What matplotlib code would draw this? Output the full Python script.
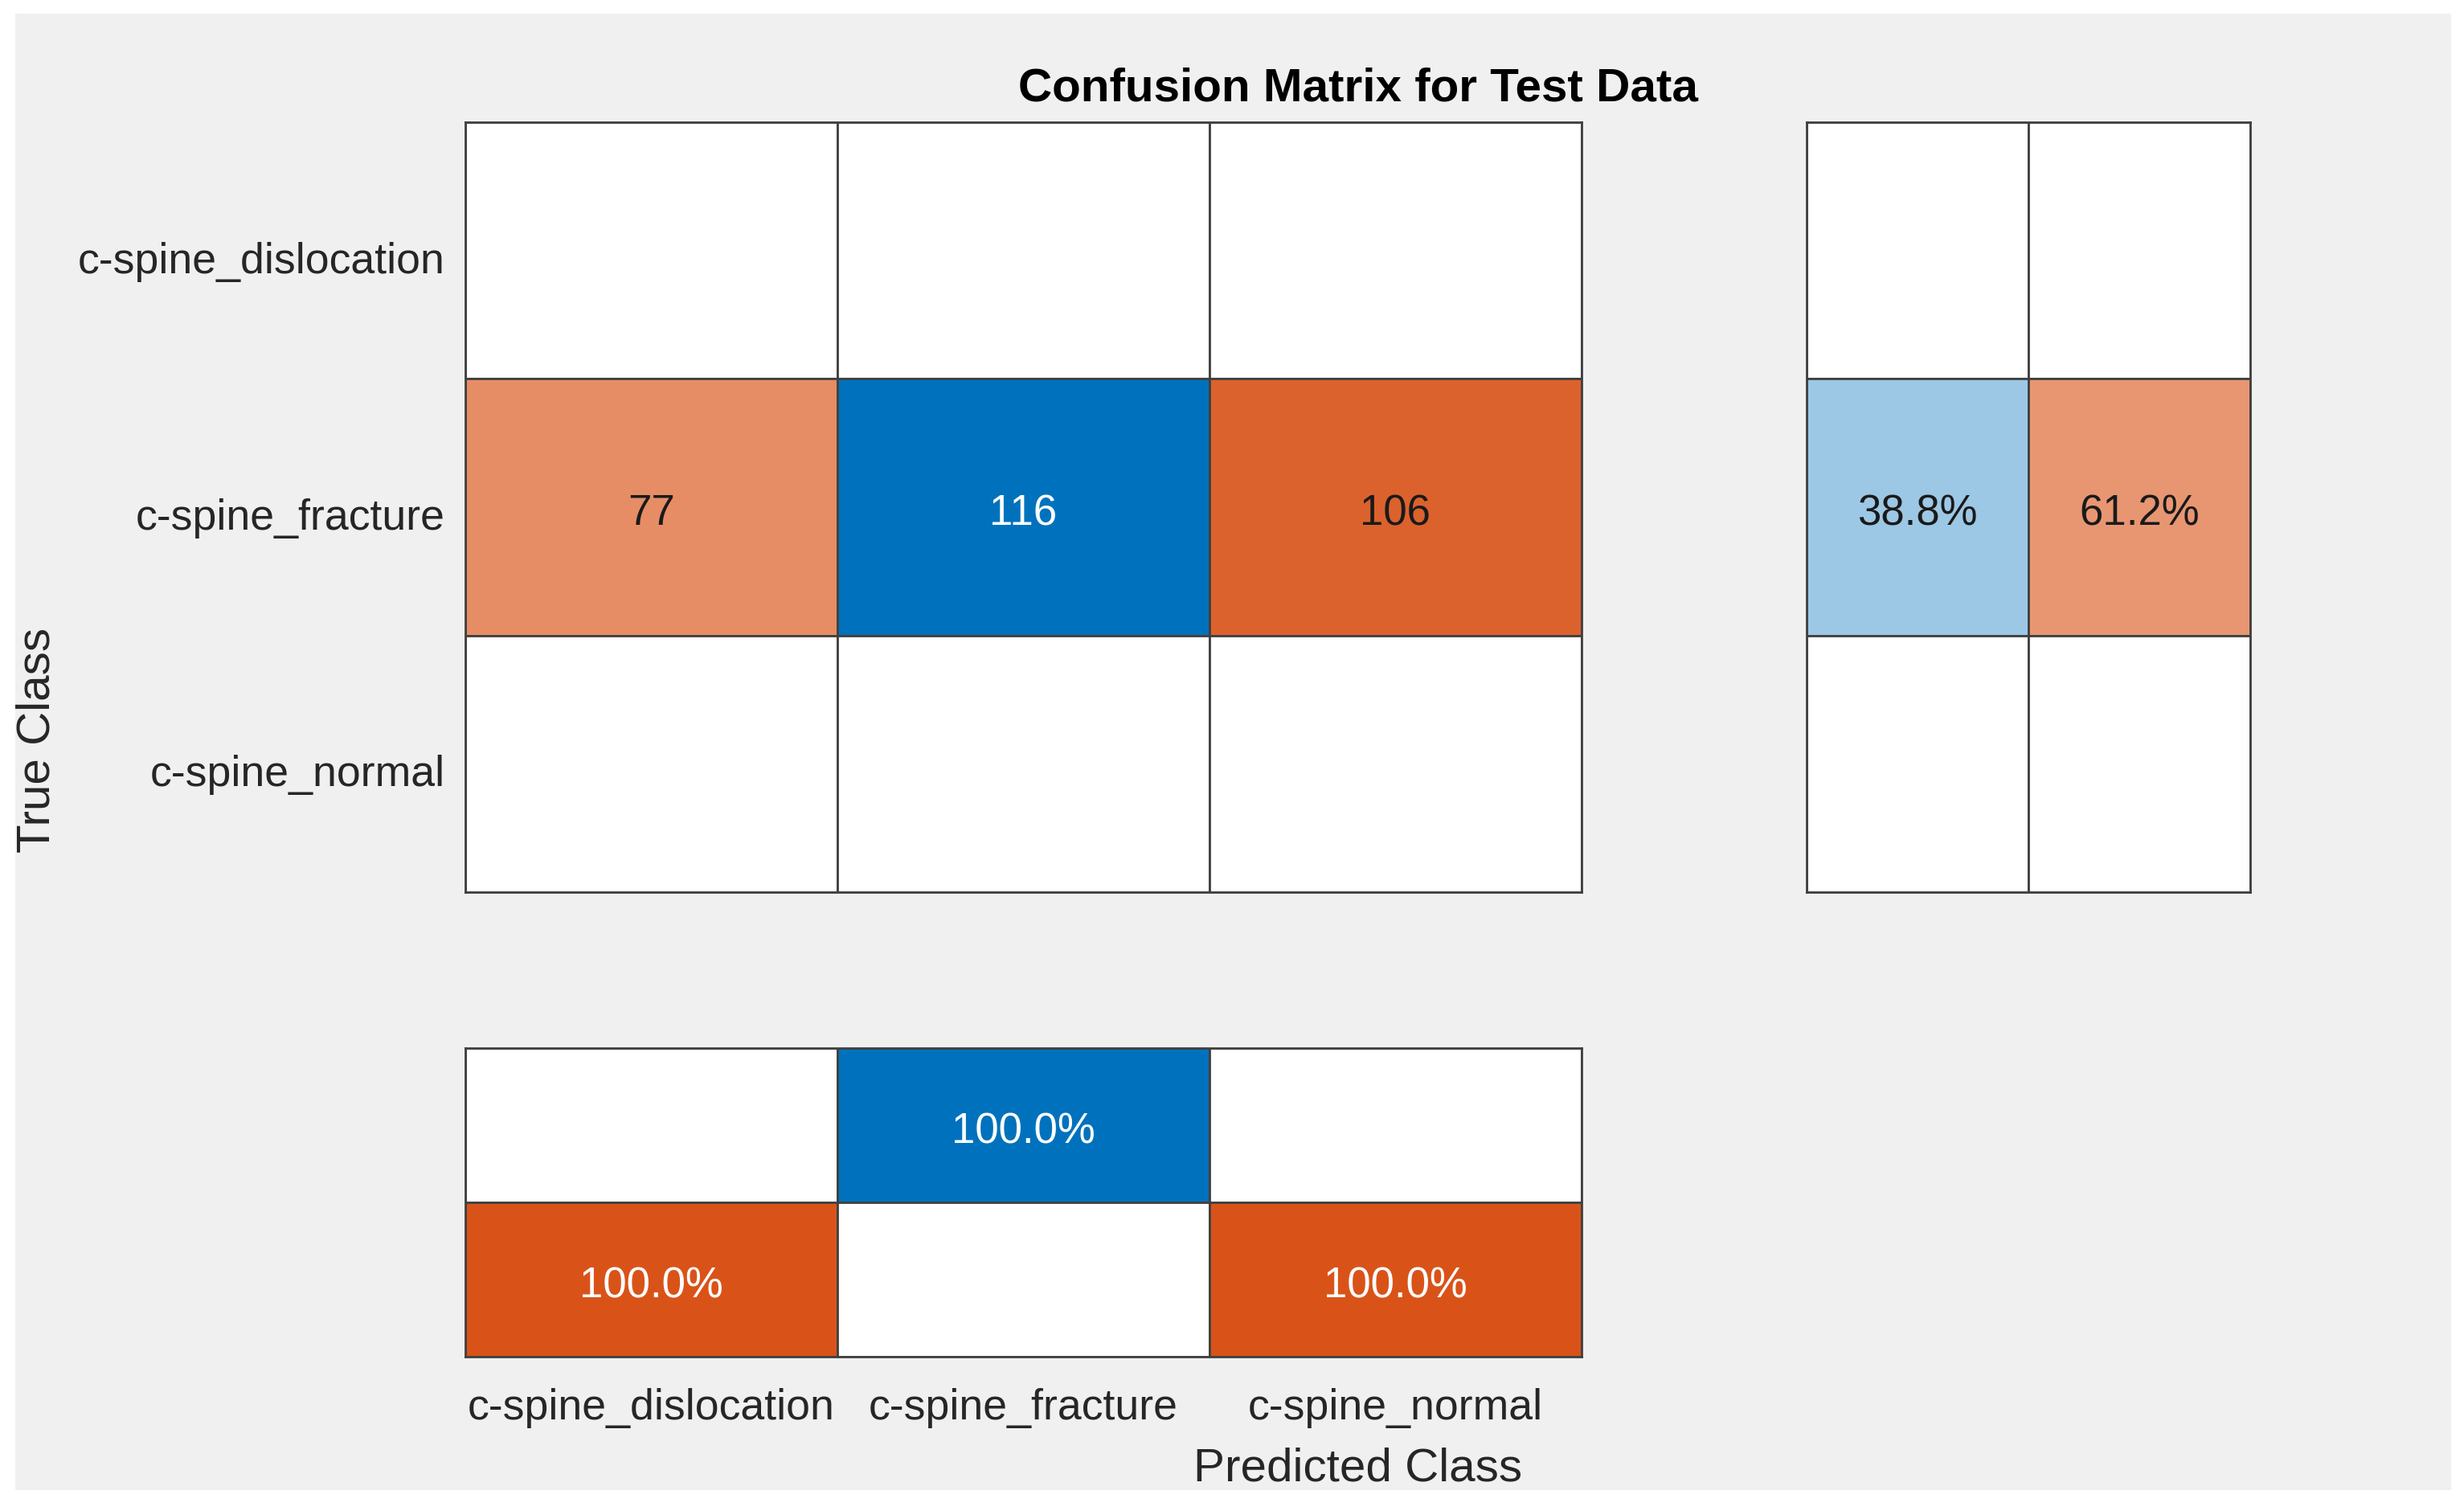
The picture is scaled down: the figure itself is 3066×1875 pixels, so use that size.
import numpy as np
import matplotlib
matplotlib.use('Agg')
import matplotlib.pyplot as plt
from matplotlib.patches import Rectangle
from matplotlib.transforms import ScaledTranslation

plt.rcParams['font.family'] = ['Liberation Sans', 'DejaVu Sans']

classes = ['c-spine_dislocation', 'c-spine_fracture', 'c-spine_normal']
cm = np.array([[0, 0, 0],
               [77, 116, 106],
               [0, 0, 0]])
# row summary: correct %, incorrect %
row_pct = np.array([[0, 0],
                    [38.8, 61.2],
                    [0, 0]])
# column summary: correct % (top), incorrect % (bottom)
col_pct = np.array([[0, 100.0, 0],
                    [100.0, 0, 100.0]])

blue = np.array([0, 114, 189]) / 255.0
orange = np.array([217, 83, 25]) / 255.0
white = np.ones(3)
edge = '#404040'
bg = '#f0f0f0'

fig = plt.figure(figsize=(15.33, 9.375), dpi=200, facecolor='white')
down = ScaledTranslation(0, -3 / 72, fig.dpi_scale_trans)


def blend(c, t):
    return white * (1 - t) + c * t


def draw_grid(ax, vals, good_mask, scale, labels):
    nr, nc = vals.shape
    for i in range(nr):
        for j in range(nc):
            v = vals[i, j]
            t = v / scale
            c = blue if good_mask[i, j] else orange
            ax.add_patch(Rectangle((j, i), 1, 1, facecolor=blend(c, t),
                                   edgecolor=edge, lw=1.0))
            if v > 0:
                tc = 'white' if t > 0.95 else '#1a1a1a'
                ax.text(j + 0.5, i + 0.5, labels[i][j], ha='center', va='center',
                        fontsize=19, color=tc, transform=ax.transData + down)
    ax.set_xlim(0, nc)
    ax.set_ylim(nr, 0)
    for s in ax.spines.values():
        s.set_color(edge)
        s.set_linewidth(1.0)
    ax.tick_params(length=0)


fig.patches.append(Rectangle((0.0062, 0.0112), 0.9886, 0.9797, transform=fig.transFigure,
                             facecolor=bg, edgecolor='none', zorder=-10))

ax_main = fig.add_axes([0.1888, 0.408, 0.4530, 0.5109])
ax_row = fig.add_axes([0.7332, 0.408, 0.1800, 0.5109])
ax_col = fig.add_axes([0.1888, 0.0997, 0.4530, 0.2048])

vmax = cm.max()
draw_grid(ax_main, cm, np.eye(3, dtype=bool), vmax,
          [[str(v) for v in r] for r in cm])
ax_main.set_xticks([])
ax_main.set_yticks(np.arange(3) + 0.5)
ax_main.set_yticklabels(classes, fontsize=19.3, color='#262626')
ax_main.tick_params(axis='y', pad=9)
for lbl in ax_main.get_yticklabels():
    lbl.set_transform(lbl.get_transform() + down)

row_mask = np.array([[True, False]] * 3)
draw_grid(ax_row, row_pct, row_mask, 100.0,
          [['%.1f%%' % v for v in r] for r in row_pct])
ax_row.set_xticks([])
ax_row.set_yticks([])

col_mask = np.array([[True] * 3, [False] * 3])
draw_grid(ax_col, col_pct, col_mask, 100.0,
          [['%.1f%%' % v for v in r] for r in col_pct])
ax_col.set_yticks([])
ax_col.set_xticks(np.arange(3) + 0.5)
ax_col.set_xticklabels(classes, fontsize=19.3, color='#262626')
ax_col.tick_params(axis='x', pad=14)

fig.text(0.5512, 0.941, 'Confusion Matrix for Test Data', ha='center', va='center',
         fontsize=21, fontweight='bold', color='black')
fig.text(0.5512, 0.0255, 'Predicted Class', ha='center', va='center',
         fontsize=21, color='#262626')
fig.text(0.0153, 0.509, 'True Class', ha='center', va='center', rotation=90,
         fontsize=21, color='#262626')

fig.savefig('out.png', dpi=200, facecolor='white')
